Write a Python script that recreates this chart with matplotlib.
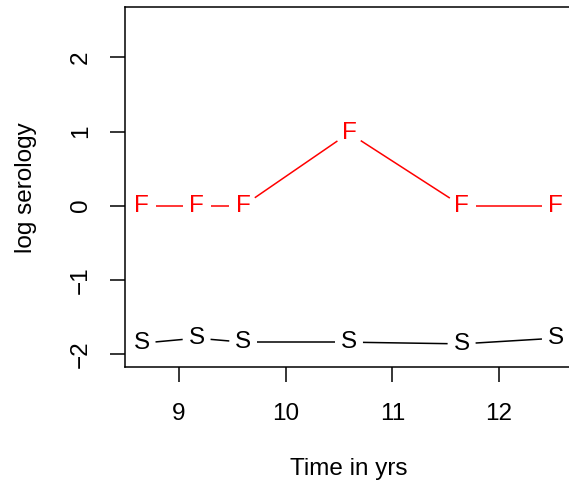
import matplotlib
matplotlib.use("Agg")
import matplotlib.pyplot as plt
import numpy as np

# Data
time_yrs = [8.65, 9.166, 9.603, 10.594, 11.65, 12.534]
f_values = [0.0, 0.0, 0.0, 0.98, 0.0, 0.0]
s_values = [-1.855, -1.787, -1.841, -1.841, -1.864, -1.787]
x_ticks = [9, 10, 11, 12]
y_ticks = [-2, -1, 0, 1, 2]

W, H, DPI = 569, 486, 100
plt.rcParams['font.family'] = ['Liberation Sans', 'DejaVu Sans']
FS = 17.5

fig = plt.figure(figsize=(W / DPI, H / DPI), dpi=DPI)
left, right, top, bottom = 125, 572.5, 7, 367.3
ax = fig.add_axes([left / W, (H - bottom) / H, (right - left) / W, (bottom - top) / H])

rng = max(time_yrs) - min(time_yrs)
ax.set_xlim(min(time_yrs) - 0.04 * rng, max(time_yrs) + 0.04 * rng)
ax.set_ylim(-2 - 0.04 * 4.5, 2.5 + 0.04 * 4.5)

ax.set_xticks(x_ticks)
ax.set_yticks(y_ticks)
ax.set_xticklabels([str(v) for v in x_ticks])
ax.set_yticklabels([str(v).replace('-', '\u2212') for v in y_ticks], rotation=90, va='center')
ax.tick_params(axis='both', length=10.8, width=1.1, labelsize=FS, direction='out')
ax.tick_params(axis='x', pad=15)
ax.tick_params(axis='y', pad=13)
for sp in ax.spines.values():
    sp.set_linewidth(1.1)


def draw_b(xs, ys, letter, color, gap_px=14):
    fig.canvas.draw()
    tr = ax.transData
    pts = tr.transform(np.column_stack([xs, ys]))
    inv = tr.inverted()
    for i in range(len(pts) - 1):
        p0, p1 = pts[i], pts[i + 1]
        d = p1 - p0
        L = np.hypot(*d)
        if L <= 2 * gap_px:
            continue
        u = d / L
        a = inv.transform(p0 + u * gap_px)
        b = inv.transform(p1 - u * gap_px)
        ax.plot([a[0], b[0]], [a[1], b[1]], color=color, lw=1.1, solid_capstyle='butt')
    for x, y in zip(xs, ys):
        ax.text(x, y, letter, color=color, fontsize=FS, ha='center', va='center')


draw_b(time_yrs, f_values, 'F', 'red')
draw_b(time_yrs, s_values, 'S', 'black')

fig.text(0.5 * (left + right) / W, 1 - 469 / H, 'Time in yrs', ha='center', va='center', fontsize=FS)
fig.text(26 / W, 1 - (0.5 * (top + bottom)) / H, 'log serology', ha='center', va='center',
         rotation=90, fontsize=FS)

fig.savefig('out.png', dpi=DPI)
